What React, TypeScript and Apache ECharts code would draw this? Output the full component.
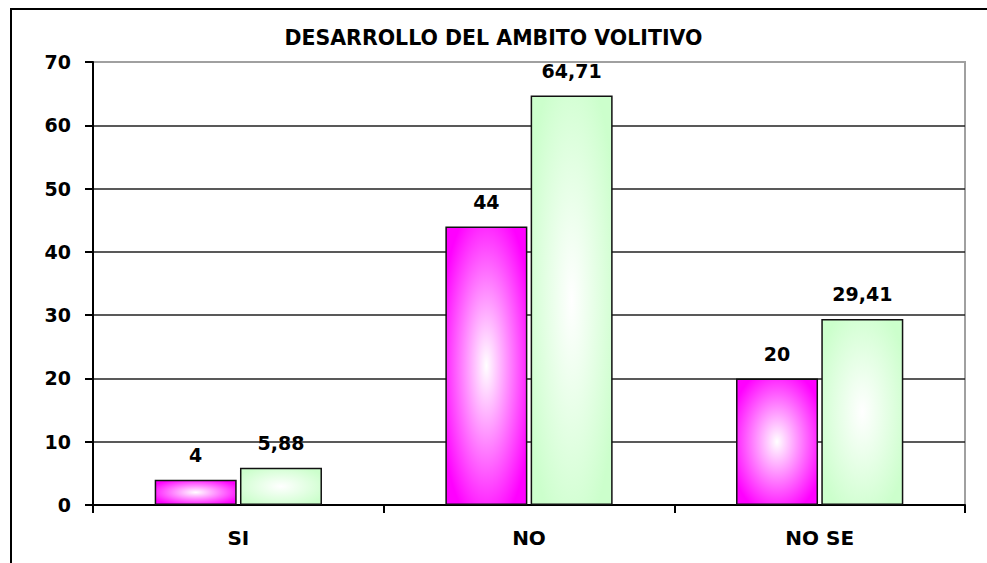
import React, { useEffect, useRef } from "react";
import * as echarts from "echarts";

const title = "DESARROLLO DEL AMBITO VOLITIVO";
const categories = ["SI", "NO", "NO SE"];
const seriesA = [4, 44, 20];
const seriesB = [5.88, 64.71, 29.41];
const yTicks = { min: 0, max: 70, interval: 10 };

const FONT = "DejaVu Sans";

const radial = (edge: string) => ({
  type: "radial",
  x: 0.5,
  y: 0.5,
  r: 0.6,
  colorStops: [
    { offset: 0, color: "#ffffff" },
    { offset: 1, color: edge },
  ],
});

const fmt = (p: any) => String(p.value).replace(".", ",");

export default function App() {
  const ref = useRef<HTMLDivElement>(null);
  useEffect(() => {
    if (!ref.current) return;
    const chart = echarts.init(ref.current, undefined, { renderer: "svg" });
    const label = {
      show: true,
      position: "top",
      distance: 15,
      formatter: fmt,
      fontFamily: FONT,
      fontWeight: "bold",
      fontSize: 19,
      color: "#000",
    };
    chart.setOption({
      animation: false,
      backgroundColor: "#ffffff",
      title: {
        text: title,
        left: "center",
        top: 22,
        textStyle: { fontFamily: FONT, fontWeight: "bold", fontSize: 20.5, color: "#000" },
      },
      graphic: [
        {
          type: "rect",
          shape: { x: 11, y: 9, width: 1100, height: 700 },
          style: { fill: "none", stroke: "#000", lineWidth: 2 },
          silent: true,
        },
      ],
      grid: {
        left: 93,
        right: 22,
        top: 62,
        bottom: 58,
        show: true,
        borderColor: "#a0a0a0",
        borderWidth: 2,
        backgroundColor: "transparent",
      },
      xAxis: {
        type: "category",
        data: categories,
        axisLine: { lineStyle: { color: "#000", width: 2 } },
        axisTick: { show: true, length: 8, lineStyle: { color: "#000", width: 2 } },
        axisLabel: {
          margin: 23,
          fontFamily: FONT,
          fontWeight: "bold",
          fontSize: 20,
          color: "#000",
        },
      },
      yAxis: {
        type: "value",
        min: yTicks.min,
        max: yTicks.max,
        interval: yTicks.interval,
        axisLine: { show: true, lineStyle: { color: "#000", width: 2 } },
        axisTick: { show: true, length: 8, lineStyle: { color: "#000", width: 2 } },
        axisLabel: {
          margin: 22,
          fontFamily: FONT,
          fontWeight: "bold",
          fontSize: 19,
          color: "#000",
        },
        splitLine: {
          show: true,
          showMinLine: false,
          showMaxLine: false,
          lineStyle: { color: "#222", width: 1.5 },
        },
      },
      series: [
        {
          type: "bar",
          data: seriesA,
          barWidth: 82,
          barGap: "4%",
          itemStyle: { color: radial("#ff00ff"), borderColor: "#111", borderWidth: 1.5 },
          label,
        },
        {
          type: "bar",
          data: seriesB,
          barWidth: 82,
          itemStyle: { color: radial("#ccffcc"), borderColor: "#111", borderWidth: 1.5 },
          label,
        },
      ],
    });
    return () => chart.dispose();
  }, []);
  return (
    <div
      ref={ref}
      style={{ position: "absolute", left: 0, top: 0, width: 987, height: 563 }}
    />
  );
}
